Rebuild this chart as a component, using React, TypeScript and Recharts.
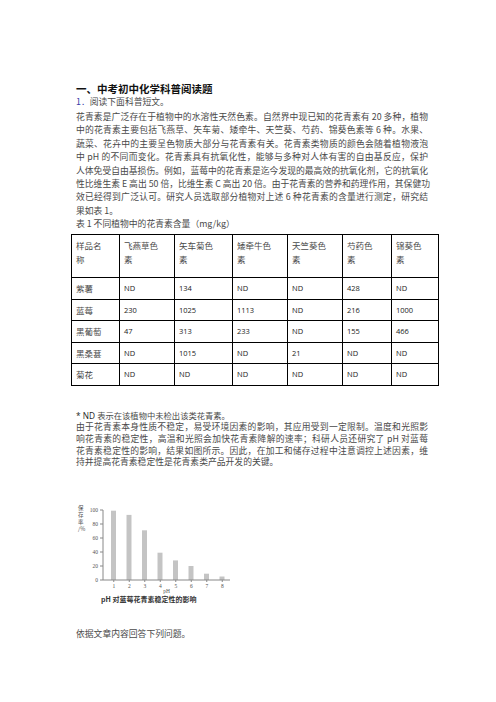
import React from 'react'
import { BarChart, Bar, XAxis, YAxis } from 'recharts'

const pHLevels = ['1', '2', '3', '4', '5', '6', '7', '8']
const retention = [99, 93, 71, 39, 28, 20, 9, 5]
const yTicks = [0, 20, 40, 60, 80, 100]

const tableHeaders = [
  ['样品名', '称'],
  ['飞燕草色', '素'],
  ['矢车菊色', '素'],
  ['矮牵牛色', '素'],
  ['天竺葵色', '素'],
  ['芍药色', '素'],
  ['锦葵色', '素'],
]
const tablePlants = ['紫薯', '蓝莓', '黑葡萄', '黑桑葚', '菊花']
const tableValues = [
  ['ND', '134', 'ND', 'ND', '428', 'ND'],
  ['230', '1025', '1113', 'ND', '216', '1000'],
  ['47', '313', '233', 'ND', '155', '466'],
  ['ND', '1015', 'ND', '21', 'ND', 'ND'],
  ['ND', 'ND', 'ND', 'ND', 'ND', 'ND'],
]

const introLines = [
  '花青素是广泛存在于植物中的水溶性天然色素。自然界中现已知的花青素有 20 多种，植物',
  '中的花青素主要包括飞燕草、矢车菊、矮牵牛、天竺葵、芍药、锦葵色素等 6 种。水果、',
  '蔬菜、花卉中的主要呈色物质大部分与花青素有关。花青素类物质的颜色会随着植物液泡',
  '中 pH 的不同而变化。花青素具有抗氧化性，能够与多种对人体有害的自由基反应，保护',
  '人体免受自由基损伤。例如，蓝莓中的花青素是迄今发现的最高效的抗氧化剂，它的抗氧化',
  '性比维生素 E 高出 50 倍，比维生素 C 高出 20 倍。由于花青素的营养和药理作用，其保健功',
  '效已经得到广泛认可。研究人员选取部分植物对上述 6 种花青素的含量进行测定，研究结',
]
const outroLines = [
  '由于花青素本身性质不稳定，易受环境因素的影响，其应用受到一定限制。温度和光照影',
  '响花青素的稳定性，高温和光照会加快花青素降解的速率；科研人员还研究了 pH 对蓝莓',
  '花青素稳定性的影响，结果如图所示。因此，在加工和储存过程中注意调控上述因素，维',
]

const chartData = pHLevels.map((p, i) => ({ pH: p, value: retention[i] }))

const cjk = '"Noto Sans CJK SC", sans-serif'
const textColor = '#4a4a4a'
const colW = [43, 50, 53, 50, 50, 44, 42]

const Line = ({ top, text, justify = true }: { top: number; text: string; justify?: boolean }) => (
  <div
    style={{
      position: 'absolute',
      left: 76,
      top: top - 6,
      width: 352,
      height: 12,
      lineHeight: '12px',
      fontSize: 8.8,
      fontFamily: cjk,
      color: textColor,
      whiteSpace: 'nowrap',
      textAlign: justify ? 'justify' : 'left',
      textAlignLast: justify ? 'justify' : 'left',
    }}
  >
    {text}
  </div>
)

const App: React.FC = () => {
  const lineGap = 13.4
  return (
    <div style={{ position: 'absolute', left: 0, top: 0, width: 496, height: 702, background: '#fff', overflow: 'hidden' }}>
      <div style={{ position: 'absolute', left: 76, top: 82, fontSize: 10.5, fontWeight: 700, fontFamily: cjk, color: '#111', lineHeight: '14px' }}>
        一、中考初中化学科普阅读题
      </div>
      <div style={{ position: 'absolute', left: 76, top: 96, fontSize: 8.8, fontFamily: cjk, color: textColor, lineHeight: '12px' }}>
        <span style={{ color: '#3c3ca8' }}>1．</span>阅读下面科普短文。
      </div>

      {introLines.map((t, i) => (
        <Line key={i} top={117 + i * lineGap} text={t} />
      ))}
      <Line top={117 + 7 * lineGap} text="果如表 1。" justify={false} />
      <Line top={117 + 8 * lineGap} text="表 1 不同植物中的花青素含量（mg/kg）" justify={false} />

      <table
        style={{
          position: 'absolute',
          left: 71,
          top: 234,
          borderCollapse: 'collapse',
          tableLayout: 'fixed',
          width: 332,
        }}
      >
        <tbody>
          <tr style={{ height: 43 }}>
            {tableHeaders.map((h, i) => (
              <td
                key={i}
                style={{
                  width: colW[i],
                  border: '1px solid #000',
                  verticalAlign: 'top',
                  padding: '3px 0 0 4px',
                  fontFamily: cjk,
                  fontSize: 8.5,
                  lineHeight: '14px',
                  color: textColor,
                }}
              >
                {h[0]}
                <br />
                {h[1]}
              </td>
            ))}
          </tr>
          {tablePlants.map((plant, r) => (
            <tr key={plant} style={{ height: 21.5 }}>
              <td style={{ border: '1px solid #000', padding: '0 0 0 4px', fontFamily: cjk, fontSize: 8.5, color: textColor }}>
                {plant}
              </td>
              {tableValues[r].map((v, c) => (
                <td
                  key={c}
                  style={{
                    border: '1px solid #000',
                    padding: '0 0 0 4px',
                    fontFamily: '"Open Sans", sans-serif',
                    fontSize: 7.5,
                    color: '#222',
                  }}
                >
                  {v}
                </td>
              ))}
            </tr>
          ))}
        </tbody>
      </table>

      <div style={{ position: 'absolute', left: 76, top: 409, fontSize: 8.3, fontFamily: cjk, color: textColor, lineHeight: '12px' }}>
        <span style={{ fontFamily: '"Open Sans", sans-serif', color: '#222' }}>* ND </span>表示在该植物中未检出该类花青素。
      </div>
      {outroLines.map((t, i) => (
        <Line key={i} top={427 + i * 11.8} text={t} />
      ))}
      <Line top={427 + 3 * 11.8} text="持并提高花青素稳定性是花青素类产品开发的关键。" justify={false} />

      {['保', '存', '率', '/%'].map((s, i) => (
        <div
          key={i}
          style={{
            position: 'absolute',
            left: 78,
            top: 505 + i * 7,
            fontSize: 5.5,
            lineHeight: '7px',
            fontFamily: cjk,
            color: '#555',
          }}
        >
          {s}
        </div>
      ))}

      <div style={{ position: 'absolute', left: 60, top: 495 }}>
        <BarChart width={175} height={105} data={chartData} margin={{ top: 15, right: 5, bottom: 0, left: 0 }} barSize={5}>
          <XAxis
            dataKey="pH"
            interval={0}
            height={20}
            padding={{ left: 3, right: 0 }}
            tickSize={2}
            stroke="#888"
            tick={{ fontSize: 5.5, fill: '#555', fontFamily: '"Liberation Serif", serif' }}
            label={{ value: 'pH', position: 'insideBottom', offset: 7, fontSize: 5.5, fill: '#555', fontFamily: '"Liberation Serif", serif' }}
          />
          <YAxis
            width={43}
            domain={[0, 100]}
            ticks={yTicks}
            tickSize={3}
            stroke="#888"
            tick={{ fontSize: 5.5, fill: '#555', fontFamily: '"Liberation Serif", serif' }}
          />
          <Bar dataKey="value" fill="#c4c4c4" isAnimationActive={false} />
        </BarChart>
      </div>

      <div style={{ position: 'absolute', left: 101, top: 594, fontSize: 7, fontWeight: 700, fontFamily: cjk, color: '#333', lineHeight: '10px' }}>
        pH 对蓝莓花青素稳定性的影响
      </div>

      <div style={{ position: 'absolute', left: 76, top: 628, fontSize: 8.8, fontFamily: cjk, color: textColor, lineHeight: '12px' }}>
        依据文章内容回答下列问题。
      </div>
    </div>
  )
}

export default App
